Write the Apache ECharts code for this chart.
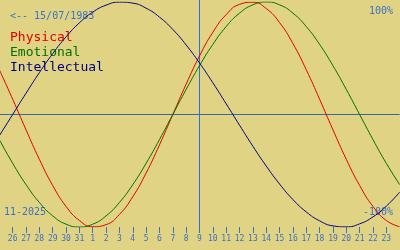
<!DOCTYPE html>
<html>
<head>
<meta charset="utf-8">
<script src="https://cdn.jsdelivr.net/npm/echarts@6/dist/echarts.min.js"></script>
<style>
html,body{margin:0;padding:0;background:#e0d384;}
#c{width:400px;height:250px;}
</style>
</head>
<body>
<div id="c"></div>
<script>
// day tick labels (Oct 26 .. Nov 23)
var dayLabels = ["26","27","28","29","30","31","1","2","3","4","5","6","7","8","9","10","11","12","13","14","15","16","17","18","19","20","21","22","23"];
// day index for samples (-1 = Oct 25 .. 29 = Nov 24)
var dayIndex = [-1,0,1,2,3,4,5,6,7,8,9,10,11,12,13,14,15,16,17,18,19,20,21,22,23,24,25,26,27,28,29];
var physical = [39.8,13.6,-13.6,-39.8,-63.1,-81.7,-94.2,-99.8,-97.9,-88.8,-73.1,-52.0,-27.0,0,27.0,52.0,73.1,88.8,97.9,99.8,94.2,81.7,63.1,39.8,13.6,-13.6,-39.8,-63.1,-81.7,-94.2,-99.8];
var emotional = [-22.3,-43.4,-62.3,-78.2,-90.1,-97.5,-100,-97.5,-90.1,-78.2,-62.3,-43.4,-22.3,0,22.3,43.4,62.3,78.2,90.1,97.5,100,97.5,90.1,78.2,62.3,43.4,22.3,0,-22.3,-43.4,-62.3];
var intellectual = [-18.9,0,18.9,37.2,54.1,69.0,81.5,91.0,97.2,99.9,99.0,94.5,86.6,75.6,61.8,45.8,28.2,9.5,-9.5,-28.2,-45.8,-61.8,-75.6,-86.6,-94.5,-99.0,-99.9,-97.2,-91.0,-81.5,-69.0];
var todayIndex = 14;
var birthText = "<-- 15/07/1983";
var monthText = "11-2025";

function pairs(vals){ return vals.map(function(v,i){ return [dayIndex[i], v]; }); }
var tickValues = dayLabels.map(function(d,i){ return i; });

var mono = "DejaVu Sans Mono";
var txtColor = "#3a72c4";
var chart = echarts.init(document.getElementById('c'), null, {renderer:'canvas'});
function line(name, color, vals){
  return {name:name, type:'line', data:pairs(vals), smooth:true, showSymbol:false,
    lineStyle:{color:color, width:1}, itemStyle:{color:color}, animation:false, z:3};
}
var series = [
  {type:'line', data:[[dayIndex[0],0],[dayIndex[dayIndex.length-1],0]], showSymbol:false, z:2, animation:false,
    lineStyle:{color:'#3a68a0', width:1}, itemStyle:{color:'#3a68a0'}},
  line('Physical', '#e00000', physical),
  line('Emotional', '#007000', emotional),
  line('Intellectual', '#000080', intellectual)
];
var texts = [
  {type:'text', left:10, top:11, style:{text:birthText, fill:txtColor, font:'10px "DejaVu Sans Mono"'}},
  {type:'text', left:10, top:31, style:{text:'Physical', fill:'#e00000', font:'13px "DejaVu Sans Mono"'}},
  {type:'text', left:10, top:46, style:{text:'Emotional', fill:'#007000', font:'13px "DejaVu Sans Mono"'}},
  {type:'text', left:10, top:61, style:{text:'Intellectual', fill:'#000080', font:'13px "DejaVu Sans Mono"'}},
  {type:'text', right:7, top:6, style:{text:'100%', fill:txtColor, font:'10px "DejaVu Sans Mono"'}},
  {type:'text', right:7, top:207, style:{text:'-100%', fill:txtColor, font:'10px "DejaVu Sans Mono"'}},
  {type:'text', left:4, top:207, style:{text:monthText, fill:txtColor, font:'10px "DejaVu Sans Mono"'}}
];
chart.setOption({
  backgroundColor:'#e0d384',
  animation:false,
  grid:{left:0, right:0, top:2, bottom:23, containLabel:false},
  xAxis:{type:'value', min:-0.95, max:29.025,
    axisLine:{show:false, onZero:false},
    axisTick:{show:true, length:6, customValues:tickValues, lineStyle:{color:'#3a72c4', width:1}},
    splitLine:{show:false},
    axisLabel:{color:txtColor, fontFamily:mono, fontSize:8, margin:8, customValues:tickValues,
      formatter:function(v){ return dayLabels[Math.round(v)] || ''; }}
  },
  yAxis:{type:'value', min:-100, max:100, show:false, splitLine:{show:false}},
  legend:{show:false},
  series:series,
  graphic:texts
});
// today marker positioned via the axis scale
var px = chart.convertToPixel({xAxisIndex:0}, todayIndex);
var xLeft = Math.round(px);
chart.setOption({graphic: texts.concat([
  {type:'rect', z:1, shape:{x:xLeft, y:0, width:1, height:231}, style:{fill:'#2a70e0'}}
])});
</script>
</body>
</html>
